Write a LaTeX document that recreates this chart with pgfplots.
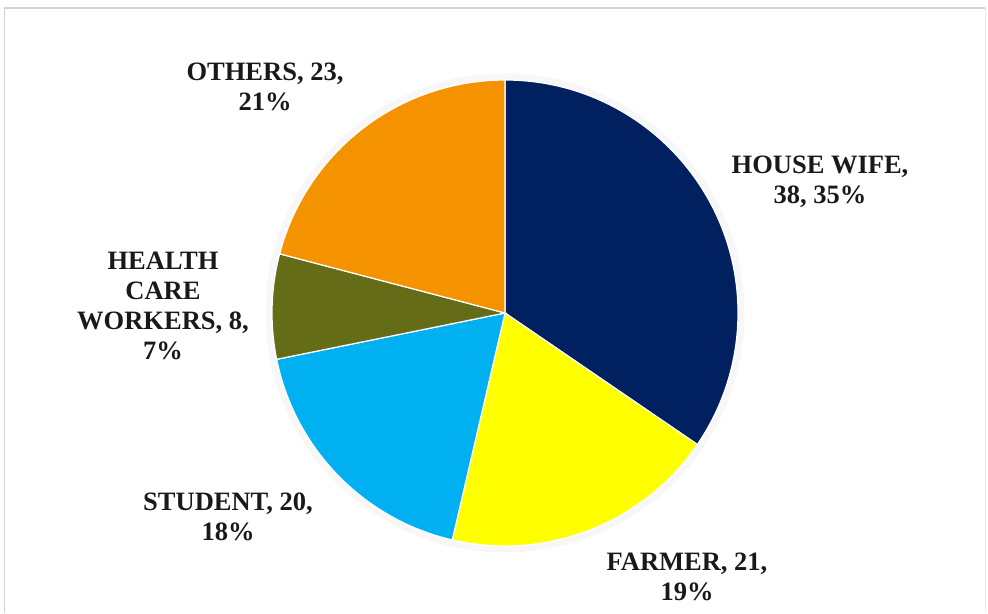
\documentclass[border=0pt]{standalone}
\usepackage{pgfplots}
\pgfplotsset{compat=1.18}
\usepackage{fontspec}
\setmainfont{Liberation Serif}
\definecolor{cHouse}{RGB}{0,32,96}
\definecolor{cFarmer}{RGB}{255,255,0}
\definecolor{cStudent}{RGB}{0,176,240}
\definecolor{cHealth}{RGB}{100,108,24}
\definecolor{cOthers}{RGB}{245,146,0}
% data: house wife, farmer, student, health care workers, others
\def\vA{38}\def\vB{21}\def\vC{20}\def\vD{8}\def\vE{23}
\begin{document}
\begin{tikzpicture}
\pgfmathsetmacro{\tot}{\vA+\vB+\vC+\vD+\vE}
\pgfmathsetmacro{\aO}{90}
\pgfmathsetmacro{\aA}{\aO-\vA/\tot*360}
\pgfmathsetmacro{\aB}{\aA-\vB/\tot*360}
\pgfmathsetmacro{\aC}{\aB-\vC/\tot*360}
\pgfmathsetmacro{\aD}{\aC-\vD/\tot*360}
\pgfmathsetmacro{\aE}{\aD-\vE/\tot*360}
\begin{axis}[
  width=988pt, height=613pt, scale only axis,
  xmin=0, xmax=988, ymin=0, ymax=613,
  hide axis, clip=false,
]
\path (axis cs:0,0) rectangle (axis cs:988,613);
% frame
\draw[gray!35, line width=1.5pt] (axis cs:4.5,0) -- (axis cs:4.5,605) -- (axis cs:985,605);
\draw[gray!15, line width=1pt] (axis cs:985,605) -- (axis cs:985,0);
% soft shadow
\draw[black!7, line width=3pt] (axis cs:505,300) circle[radius=234pt];
\draw[black!3, line width=7pt] (axis cs:505,300) circle[radius=236pt];
% slices
\def\R{233pt}
\fill[cHouse, draw=white, line width=1.2pt] (axis cs:505,300) -- ([shift={(\aO:\R)}]axis cs:505,300) arc[start angle=\aO, end angle=\aA, radius=\R] -- cycle;
\fill[cFarmer, draw=white, line width=1.2pt] (axis cs:505,300) -- ([shift={(\aA:\R)}]axis cs:505,300) arc[start angle=\aA, end angle=\aB, radius=\R] -- cycle;
\fill[cStudent, draw=white, line width=1.2pt] (axis cs:505,300) -- ([shift={(\aB:\R)}]axis cs:505,300) arc[start angle=\aB, end angle=\aC, radius=\R] -- cycle;
\fill[cHealth, draw=white, line width=1.2pt] (axis cs:505,300) -- ([shift={(\aC:\R)}]axis cs:505,300) arc[start angle=\aC, end angle=\aD, radius=\R] -- cycle;
\fill[cOthers, draw=white, line width=1.2pt] (axis cs:505,300) -- ([shift={(\aD:\R)}]axis cs:505,300) arc[start angle=\aD, end angle=\aE, radius=\R] -- cycle;
% labels
\tikzset{lab/.style={align=center, font=\fontsize{26.5}{30}\selectfont\bfseries, text=black!90, inner sep=0pt}}
\node[lab] at (axis cs:820,431) {HOUSE WIFE,\\38, 35\%};
\node[lab] at (axis cs:687,36) {FARMER, 21,\\19\%};
\node[lab] at (axis cs:228,96) {STUDENT, 20,\\18\%};
\node[lab] at (axis cs:163,307) {HEALTH\\CARE\\WORKERS, 8,\\7\%};
\node[lab] at (axis cs:265,526) {OTHERS, 23,\\21\%};
\end{axis}
\end{tikzpicture}
\end{document}
